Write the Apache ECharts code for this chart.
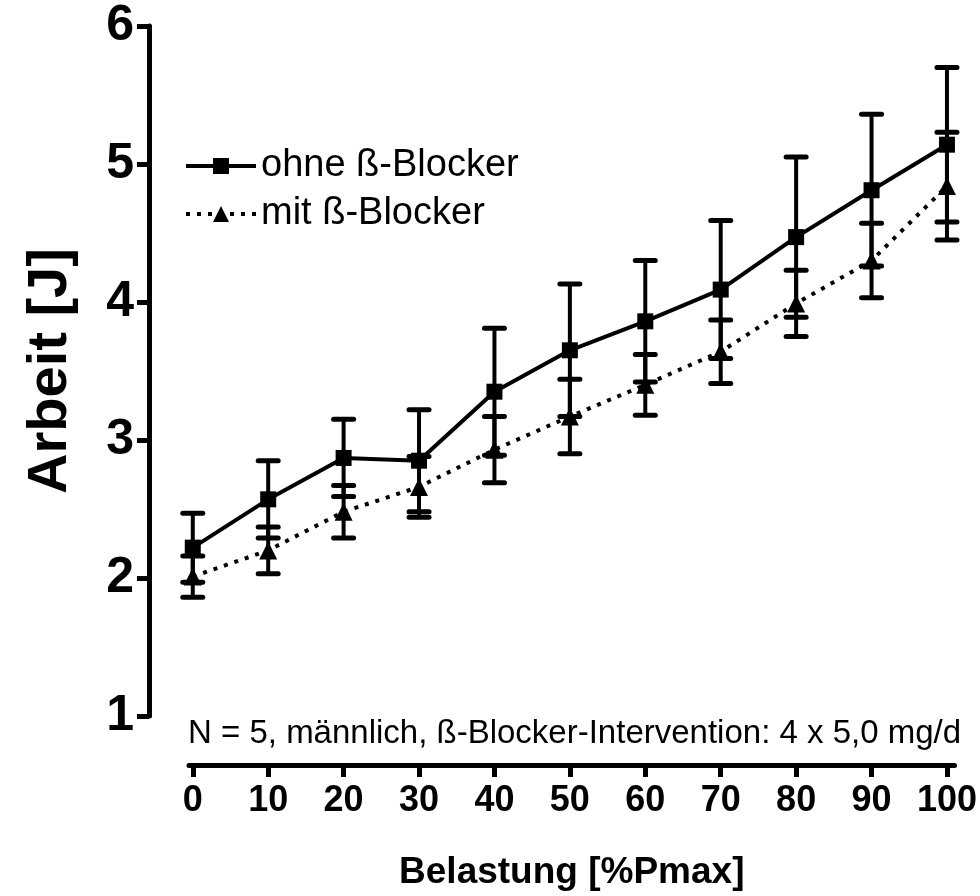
<!DOCTYPE html>
<html>
<head>
<meta charset="utf-8">
<script src="https://cdn.jsdelivr.net/npm/echarts@6/dist/echarts.min.js"></script>
<style>
html,body{margin:0;padding:0;background:#fff;}
#chart{width:980px;height:896px;}
</style>
</head>
<body>
<div id="chart"></div>
<script>
// Data
const belastung = [0, 10, 20, 30, 40, 50, 60, 70, 80, 90, 100];
const ohneMean = [2.22, 2.57, 2.87, 2.85, 3.35, 3.65, 3.86, 4.09, 4.47, 4.81, 5.14];
const ohneSD   = [0.25, 0.28, 0.28, 0.37, 0.46, 0.48, 0.44, 0.50, 0.58, 0.55, 0.56];
const mitMean  = [2.01, 2.20, 2.48, 2.66, 2.93, 3.17, 3.40, 3.64, 3.99, 4.30, 4.84];
const mitSD    = [0.15, 0.17, 0.19, 0.22, 0.24, 0.27, 0.22, 0.23, 0.24, 0.27, 0.39];
const yTicks = [1, 2, 3, 4, 5, 6];
const xTicks = [0, 10, 20, 30, 40, 50, 60, 70, 80, 90, 100];
const seriesNames = ['ohne ß-Blocker', 'mit ß-Blocker'];
const noteText = 'N = 5, männlich, ß-Blocker-Intervention: 4 x 5,0 mg/d';
const xTitle = 'Belastung [%Pmax]';
const yTitle = 'Arbeit [J]';

const FONT = '"Liberation Sans", Arial, Helvetica, sans-serif';

function pairs(xs, ys) { return xs.map((x, i) => [x, ys[i]]); }
function errData(xs, m, sd) { return xs.map((x, i) => [x, m[i] - sd[i], m[i] + sd[i]]); }

function errRender(params, api) {
  const x = api.value(0);
  const lo = api.coord([x, api.value(1)]);
  const hi = api.coord([x, api.value(2)]);
  const hw = 10;
  const st = { stroke: '#000', lineWidth: 5, lineCap: 'round' };
  return {
    type: 'group',
    children: [
      { type: 'line', shape: { x1: lo[0], y1: hi[1], x2: lo[0], y2: lo[1] }, style: { stroke: '#000', lineWidth: 4 } },
      { type: 'line', shape: { x1: hi[0] - hw, y1: hi[1], x2: hi[0] + hw, y2: hi[1] }, style: st },
      { type: 'line', shape: { x1: lo[0] - hw, y1: lo[1], x2: lo[0] + hw, y2: lo[1] }, style: st }
    ]
  };
}

const chart = echarts.init(document.getElementById('chart'), null, { renderer: 'canvas' });
chart.setOption({
  backgroundColor: '#fff',
  animation: false,
  textStyle: { fontFamily: FONT, color: '#000' },
  title: {
    text: noteText,
    left: 188,
    top: 717,
    padding: 0,
    textStyle: { fontFamily: FONT, fontSize: 33, fontWeight: 'normal', color: '#000' }
  },
  legend: {
    data: seriesNames,
    orient: 'vertical',
    left: 184,
    top: 146,
    padding: 0,
    itemWidth: 70,
    itemHeight: 20,
    itemGap: 8,
    selectedMode: false,
    lineStyle: { width: 4 },
    textStyle: { fontFamily: FONT, fontSize: 38, lineHeight: 40, color: '#000' }
  },
  grid: { left: 189, right: 22.4, top: 26, bottom: 180, containLabel: false },
  xAxis: {
    type: 'value',
    min: -0.5,
    max: 101,
    offset: 49,
    name: xTitle,
    nameLocation: 'middle',
    nameGap: 89,
    nameTextStyle: { fontFamily: FONT, fontSize: 37, fontWeight: 'bold', color: '#000' },
    axisLine: { show: true, onZero: false, lineStyle: { color: '#000', width: 5 } },
    axisTick: { show: true, length: 12, lineStyle: { color: '#000', width: 5 }, customValues: xTicks },
    axisLabel: { fontFamily: FONT, fontSize: 36, fontWeight: 'bold', color: '#000', margin: 18, customValues: xTicks },
    splitLine: { show: false }
  },
  yAxis: {
    type: 'value',
    min: 1,
    max: 6,
    interval: 1,
    offset: 40,
    name: yTitle,
    nameLocation: 'middle',
    nameGap: 70,
    nameRotate: 90,
    nameTextStyle: { fontFamily: FONT, fontSize: 56, fontWeight: 'bold', color: '#000' },
    axisLine: { show: true, onZero: false, lineStyle: { color: '#000', width: 5 } },
    axisTick: { show: true, length: 12, lineStyle: { color: '#000', width: 5 } },
    axisLabel: { fontFamily: FONT, fontSize: 50, fontWeight: 'bold', color: '#000', margin: 15,
                 formatter: v => (yTicks.indexOf(v) >= 0 ? String(v) : '') },
    splitLine: { show: false }
  },
  series: [
    {
      type: 'custom',
      name: 'err-ohne',
      renderItem: errRender,
      data: errData(belastung, ohneMean, ohneSD),
      encode: { x: 0, y: [1, 2] },
      z: 3
    },
    {
      type: 'custom',
      name: 'err-mit',
      renderItem: errRender,
      data: errData(belastung, mitMean, mitSD),
      encode: { x: 0, y: [1, 2] },
      z: 3
    },
    {
      type: 'line',
      name: seriesNames[1],
      data: pairs(belastung, mitMean),
      symbol: 'triangle',
      symbolSize: 18,
      itemStyle: { color: '#000' },
      lineStyle: { color: '#000', width: 4, type: [4, 7], cap: 'butt' },
      z: 4
    },
    {
      type: 'line',
      name: seriesNames[0],
      data: pairs(belastung, ohneMean),
      symbol: 'rect',
      symbolSize: 16,
      itemStyle: { color: '#000' },
      lineStyle: { color: '#000', width: 4, type: 'solid' },
      z: 5
    }
  ]
});
</script>
</body>
</html>
